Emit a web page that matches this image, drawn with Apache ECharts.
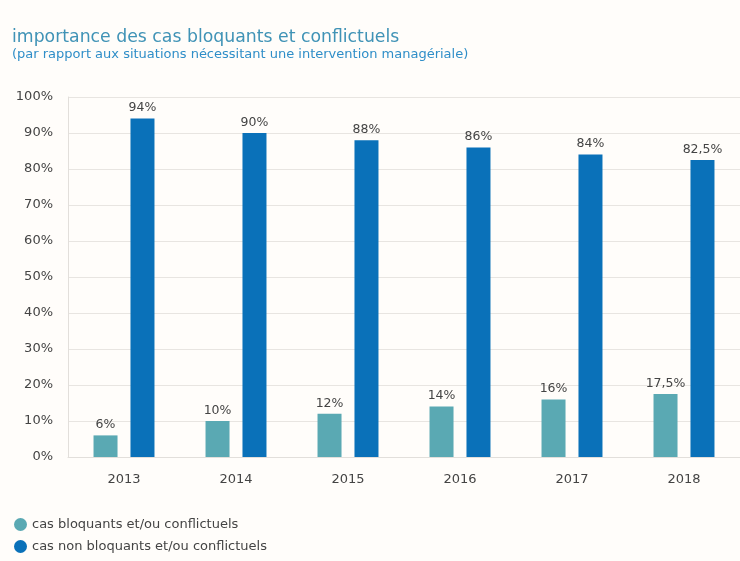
<!DOCTYPE html>
<html>
<head>
<meta charset="utf-8">
<script src="https://cdn.jsdelivr.net/npm/echarts@6/dist/echarts.min.js"></script>
<style>
html,body{margin:0;padding:0;background:#fffdfa;}
#chart{width:740px;height:561px;}
</style>
</head>
<body>
<div id="chart"></div>
<script>
const years = ['2013', '2014', '2015', '2016', '2017', '2018'];
const bloquants = [6, 10, 12, 14, 16, 17.5];
const nonBloquants = [94, 90, 88, 86, 84, 82.5];
const seriesNames = ['cas bloquants et/ou conflictuels', 'cas non bloquants et/ou conflictuels'];
const yTicks = { min: 0, max: 100, interval: 10 };

const font = '"DejaVu Sans", "Noto Sans", sans-serif';
const fmt = v => String(v).replace('.', ',') + '%';

const chart = echarts.init(document.getElementById('chart'));
chart.setOption({
  backgroundColor: '#fffdfa',
  animation: false,
  textStyle: { fontFamily: font },
  title: [
    { text: 'importance des cas bloquants et conflictuels', left: 7, top: 24,
      textStyle: { fontFamily: font, fontSize: 17.3, fontWeight: 'normal', color: '#4093b6' } },
    { text: '(par rapport aux situations nécessitant une intervention managériale)', left: 7, top: 43,
      textStyle: { fontFamily: font, fontSize: 13, fontWeight: 'normal', color: '#2f8ec8' } }
  ],
  legend: {
    orient: 'vertical', left: 9, top: 513, itemGap: 9,
    icon: 'circle', itemWidth: 13, itemHeight: 13,
    textStyle: { fontFamily: font, fontSize: 13, color: '#444', padding: [0, 0, 0, 0] },
    data: seriesNames
  },
  grid: { left: 68, right: 0, top: 97, bottom: 104, containLabel: false },
  xAxis: {
    type: 'category', data: years,
    axisLine: { show: true, lineStyle: { color: '#e2dfdb', width: 1 } },
    axisTick: { show: false },
    axisLabel: { fontFamily: font, fontSize: 13, color: '#444', margin: 16 }
  },
  yAxis: {
    type: 'value', min: yTicks.min, max: yTicks.max, interval: yTicks.interval,
    axisLine: { show: true, lineStyle: { color: '#e2dfdb', width: 1 } },
    axisTick: { show: false },
    splitLine: { lineStyle: { color: '#e8e5e1', width: 1 } },
    axisLabel: { formatter: '{value}%', fontFamily: font, fontSize: 13, color: '#444', margin: 15 }
  },
  series: [
    { name: seriesNames[0], type: 'bar', data: bloquants, barWidth: 24, barGap: '54%',
      itemStyle: { color: '#5aa9b3' },
      label: { show: true, position: 'top', distance: 4, formatter: p => fmt(p.value),
        fontFamily: font, fontSize: 12.5, color: '#444' } },
    { name: seriesNames[1], type: 'bar', data: nonBloquants, barWidth: 24,
      itemStyle: { color: '#0a71b9' },
      label: { show: true, position: 'top', distance: 4, formatter: p => fmt(p.value),
        fontFamily: font, fontSize: 12.5, color: '#444' } }
  ]
});
</script>
</body>
</html>
